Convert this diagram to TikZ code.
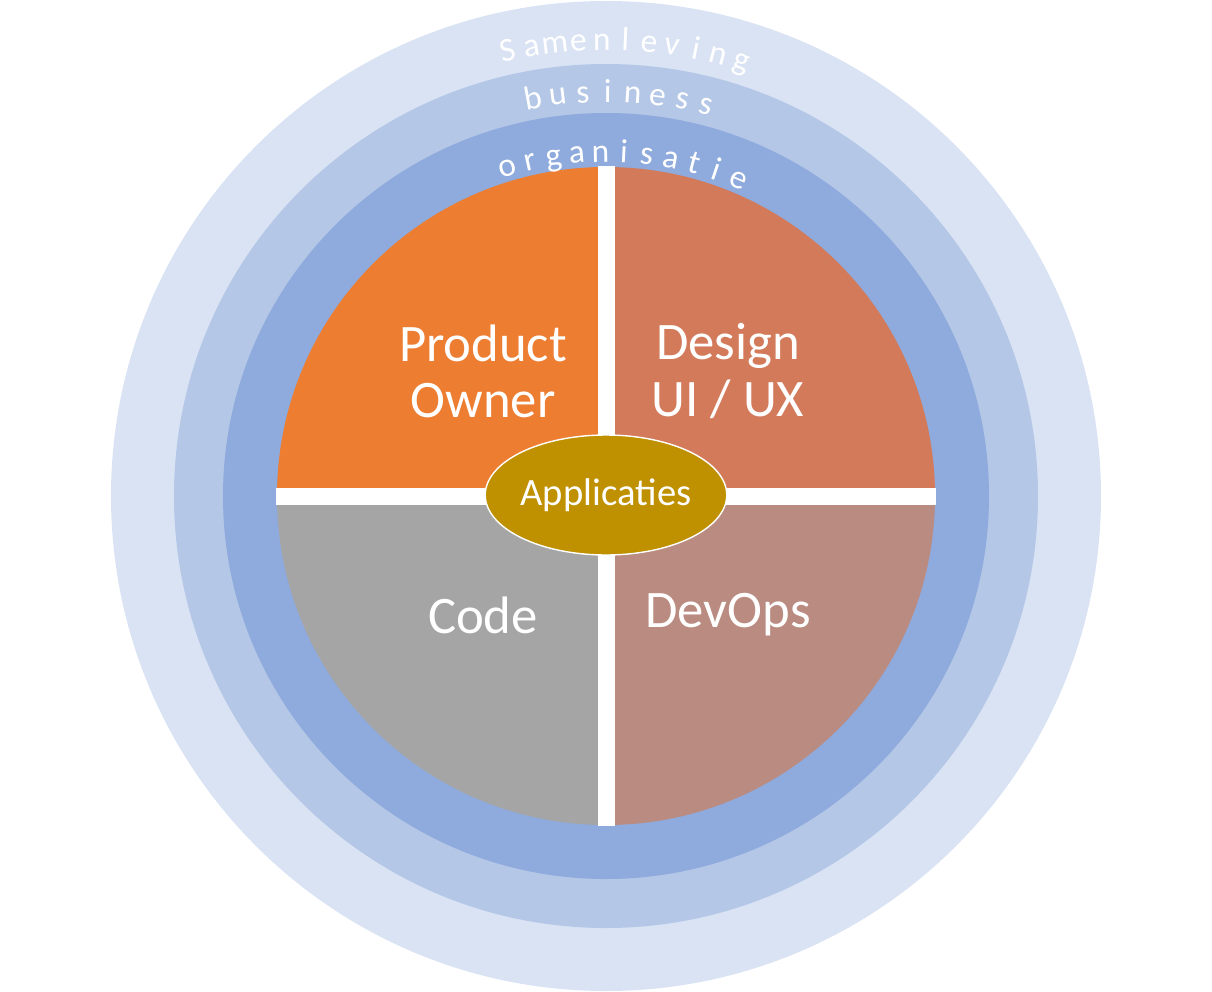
\documentclass[tikz,border=0pt]{standalone}
\usepackage{fontspec}
\setmainfont{Carlito}
\usepackage{tikz}
\usetikzlibrary{shapes.geometric}
\definecolor{ring1}{HTML}{DAE3F3}
\definecolor{ring2}{HTML}{B4C7E7}
\definecolor{ring3}{HTML}{8FAADC}
\definecolor{po}{HTML}{ED7D31}
\definecolor{ux}{HTML}{D27A5A}
\definecolor{ops}{HTML}{BA8B81}
\definecolor{code}{HTML}{A5A5A5}
\definecolor{app}{HTML}{BF9000}
\tikzset{
	x=0.02cm, y=0.02cm, % 1 eenheid = 1 pixel
	label/.style={text=white, font=\fontsize{30}{36}\selectfont, align=center}, % tekst in de kwartieren
	letter/.style={text=white, anchor=base, font=\fontsize{19}{22}\selectfont} % letters langs de ringen
}
\begin{document}
\begin{tikzpicture}
				\useasboundingbox (-606,-495) rectangle (606,496);
				\fill[ring1] (0,0) circle (495);
				\fill[ring2] (0,0) circle (432);
				\fill[ring3] (0,0) circle (383);
				\fill[po] (0,0) -- (180:329) arc (180:90:329) -- cycle;
				\fill[ux] (0,0) -- (90:329) arc (90:0:329) -- cycle;
				\fill[ops] (0,0) -- (0:329) arc (0:-90:329) -- cycle;
				\fill[code] (0,0) -- (-90:329) arc (-90:-180:329) -- cycle;
				\coordinate (l) at (-330,0);
				\coordinate (r) at (330,0);
				\coordinate (t) at (0,330);
				\coordinate (b) at (0,-330);
				\draw[white, line width=0.34cm] (l) -- (r) (t) -- (b);
				\node[ellipse, draw=white, thick, fill=app, minimum width=3.8cm, minimum height=2.4cm, inner sep=0pt, text=white, font=\fontsize{22}{26}\selectfont] (app) at (0,1) {Applicaties};
				\node[label] (po) at (-123,125) {Product\\[-4pt]Owner};
				\node[label] (ux) at (122,125) {Design\\[-4pt]UI / UX};
				\node[label] (code) at (-123,-119) {Code};
				\node[label] (ops) at (122,-119) {DevOps};
				% letters langs de ringen
				\foreach \ch [count=\i] in {S,a,m,e,n,l,e,v,i,n,g}
					\node[letter, rotate=102.4-\i*2.97+2.97-90] (s\i) at ({102.4-(\i-1)*2.97}:446) {\ch};
				\foreach \ch [count=\i] in {b,u,s,i,n,e,s,s}
					\node[letter, rotate=100.4-\i*3.55+3.55-90] (b\i) at ({100.4-(\i-1)*3.55}:394) {\ch};
				\foreach \ch [count=\i] in {o,r,g,a,n,i,s,a,t,i,e}
					\node[letter, rotate=106.7-\i*3.94+3.94-90] (o\i) at ({106.7-(\i-1)*3.94}:334) {\ch};
			\end{tikzpicture}
\end{document}
